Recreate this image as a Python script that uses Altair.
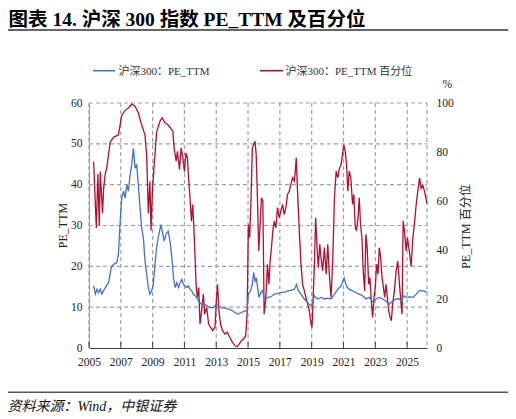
import altair as alt
import pandas as pd

# 沪深300：PE_TTM（左轴）
pe_year = [2005.29, 2005.40, 2005.50, 2005.60, 2005.71, 2005.81, 2006.02, 2006.23, 2006.40, 2006.54,
           2006.75, 2006.85, 2006.96, 2007.06, 2007.17, 2007.27, 2007.38, 2007.48, 2007.58, 2007.69,
           2007.79, 2007.90, 2008.00, 2008.10, 2008.21, 2008.31, 2008.42, 2008.52, 2008.63, 2008.73,
           2008.83, 2008.94, 2009.04, 2009.15, 2009.25, 2009.35, 2009.52, 2009.60, 2009.73, 2009.83,
           2009.98, 2010.10, 2010.21, 2010.31, 2010.42, 2010.52, 2010.63, 2010.73, 2010.83, 2010.94,
           2011.04, 2011.15, 2011.25, 2011.35, 2011.46, 2011.56, 2011.67, 2011.77, 2011.88, 2011.98,
           2012.08, 2012.19, 2012.40, 2012.60, 2012.81, 2013.02, 2013.19, 2013.33, 2013.54, 2013.75,
           2013.96, 2014.17, 2014.38, 2014.58, 2014.79, 2014.94, 2015.02, 2015.15, 2015.27, 2015.35,
           2015.44, 2015.52, 2015.60, 2015.69, 2015.80, 2015.91, 2016.01, 2016.12, 2016.22, 2016.43,
           2016.64, 2016.85, 2017.06, 2017.27, 2017.48, 2017.69, 2017.91, 2018.05, 2018.16, 2018.33,
           2018.54, 2018.75, 2018.96, 2019.06, 2019.17, 2019.27, 2019.38, 2019.59, 2019.80, 2020.01,
           2020.22, 2020.43, 2020.64, 2020.85, 2021.04, 2021.15, 2021.25, 2021.36, 2021.57, 2021.78,
           2021.99, 2022.20, 2022.41, 2022.62, 2022.83, 2023.04, 2023.25, 2023.46, 2023.67, 2023.88,
           2024.09, 2024.31, 2024.52, 2024.68, 2024.77, 2024.94, 2025.15, 2025.36, 2025.57, 2025.78,
           2025.99, 2026.15, 2026.25]
pe_value = [15.2, 13.2, 14.4, 13.6, 14.4, 13.2, 14.8, 16, 19.7, 20.5,
            20.9, 22.9, 31, 36.7, 38.4, 36.7, 40, 38.4, 42.4, 44.9,
            48.9, 44, 45, 40, 34.3, 29.4, 27, 21.3, 18, 14.8,
            13.2, 14, 15.6, 20.5, 24.6, 27, 30.2, 28.6, 26.2, 27.8,
            28.6, 26, 22.1, 17.2, 14.8, 16, 14.8, 16, 16.8, 15.6,
            15.2, 14.8, 15.2, 14.4, 14, 13.2, 12.8, 12.4, 11.5, 11.1,
            10.7, 11.1, 10.3, 9.9, 9.9, 10.7, 10.3, 9.9, 9.8, 9.5,
            9.3, 8.7, 8.3, 8.7, 9.1, 9.1, 13.2, 14, 15.6, 18.5,
            16.4, 17.2, 14.8, 12.4, 13.6, 14, 12.4, 12, 12.4, 12.5,
            13.2, 13.3, 13.6, 13.6, 14, 14.1, 14.4, 15.6, 14, 13.2,
            12, 11.1, 10.3, 11.1, 12.8, 12.4, 12, 12.4, 12, 12.2,
            12, 13.2, 14.4, 15.2, 17.2, 15.6, 14.8, 14.4, 14, 13.6,
            13.2, 12.8, 12, 12.4, 11.4, 12, 12.4, 12, 11.5, 10.7,
            11.5, 12, 12, 11.5, 12.8, 12.4, 12.5, 12.4, 13.2, 14.1,
            14, 13.8, 13.6]

# 沪深300：PE_TTM 百分位（右轴，%）
pct_year = [2005.29, 2005.46, 2005.56, 2005.65, 2005.71, 2005.85, 2005.92, 2006.02, 2006.13, 2006.33,
            2006.54, 2006.85, 2007.06, 2007.27, 2007.48, 2007.69, 2007.90, 2008.10, 2008.31, 2008.52,
            2008.63, 2008.73, 2008.83, 2008.90, 2008.98, 2009.10, 2009.25, 2009.46, 2009.60, 2009.77,
            2009.98, 2010.27, 2010.35, 2010.48, 2010.56, 2010.69, 2010.79, 2010.90, 2011.00, 2011.10,
            2011.19, 2011.25, 2011.35, 2011.44, 2011.52, 2011.60, 2011.67, 2011.73, 2011.81, 2011.90,
            2011.98, 2012.08, 2012.19, 2012.27, 2012.40, 2012.52, 2012.65, 2012.77, 2012.92, 2013.02,
            2013.08, 2013.17, 2013.27, 2013.40, 2013.54, 2013.69, 2013.85, 2014.02, 2014.19, 2014.31,
            2014.44, 2014.58, 2014.73, 2014.85, 2014.94, 2015.02, 2015.10, 2015.19, 2015.27, 2015.35,
            2015.44, 2015.51, 2015.59, 2015.67, 2015.76, 2015.84, 2015.93, 2016.01, 2016.12, 2016.22,
            2016.31, 2016.39, 2016.47, 2016.56, 2016.64, 2016.75, 2016.85, 2016.96, 2017.06, 2017.17,
            2017.27, 2017.38, 2017.48, 2017.59, 2017.69, 2017.80, 2017.91, 2017.97, 2018.03, 2018.12,
            2018.22, 2018.33, 2018.43, 2018.54, 2018.64, 2018.75, 2018.85, 2018.96, 2019.02, 2019.08,
            2019.17, 2019.25, 2019.34, 2019.42, 2019.51, 2019.59, 2019.69, 2019.80, 2019.91, 2020.01,
            2020.12, 2020.22, 2020.33, 2020.43, 2020.54, 2020.64, 2020.75, 2020.85, 2020.94, 2021.02,
            2021.11, 2021.19, 2021.27, 2021.36, 2021.46, 2021.57, 2021.65, 2021.74, 2021.82, 2021.91,
            2021.99, 2022.07, 2022.16, 2022.24, 2022.33, 2022.41, 2022.49, 2022.58, 2022.66, 2022.75,
            2022.83, 2022.92, 2023.00, 2023.08, 2023.17, 2023.25, 2023.34, 2023.42, 2023.51, 2023.59,
            2023.67, 2023.76, 2023.84, 2023.93, 2024.01, 2024.09, 2024.20, 2024.31, 2024.41, 2024.52,
            2024.62, 2024.68, 2024.75, 2024.83, 2024.94, 2025.02, 2025.11, 2025.25, 2025.36, 2025.46,
            2025.57, 2025.67, 2025.78, 2025.88, 2025.99, 2026.09, 2026.18, 2026.25]
pct_value = [76, 49, 71, 50, 72, 55, 65, 71, 74, 84,
             86, 87, 95, 97, 98, 99.6, 98.6, 96, 91, 87,
             78, 55, 68, 48, 63, 75, 88, 92.5, 94, 92,
             91, 88.5, 81.7, 76.3, 80.3, 72.9, 81.7, 77.6, 72, 79.6,
             77.6, 70.6, 61.3, 51.8, 58.6, 47.8, 36.9, 26, 20.6, 24.7,
             9.8, 15.2, 22, 13.8, 16.6, 9.8, 8.4, 7.1, 8.4, 20.6,
             26, 15.2, 9.8, 7.1, 5.7, 6.4, 4.3, 2.3, 0.9, 0.5,
             1.6, 3, 3.7, 5, 13.8, 50.5, 45, 61.3, 81.7, 83,
             84.4, 79, 61.3, 39.6, 50.5, 61.3, 60, 13.8, 20.6, 34.2,
             26, 35.5, 41, 47.8, 51.8, 49, 57.3, 53.2, 55.9, 58.6,
             54.5, 57.3, 62.7, 64, 66.8, 69.5, 68.1, 72.2, 77.6, 62.7,
             47.8, 34.2, 26, 23.3, 20.6, 17.9, 15.2, 9.8, 8.4, 17.9,
             34.2, 53.2, 41, 32.8, 42.3, 36.9, 31.5, 41, 30.1, 42.3,
             28.8, 20.6, 36.9, 61.3, 72.2, 69.5, 73.5, 74.9, 79, 83,
             80.3, 74.9, 64, 72.2, 69.5, 58.6, 62.7, 49.1, 47.8, 53.2,
             61.3, 50.5, 45, 31.5, 23.3, 46.4, 41, 26, 28.8, 19.3,
             12.5, 20.6, 24.7, 34.2, 30.1, 41, 36.9, 28.8, 24.7, 20.6,
             26, 20.6, 15.2, 12.5, 11.1, 17.9, 23.3, 31.5, 35.5, 26,
             17.9, 13.8, 51.8, 47.8, 39.6, 45, 41, 33.3, 45, 50.5,
             58.6, 64, 69.5, 65.1, 66.4, 64, 61.3, 59]

x_ticks = [2005, 2007, 2009, 2011, 2013, 2015, 2017, 2019, 2021, 2023, 2025]
left_ticks = [0, 10, 20, 30, 40, 50, 60]
right_ticks = [0, 20, 40, 60, 80, 100]

pe = pd.DataFrame({"year": pe_year, "pe": pe_value})
pct = pd.DataFrame({"year": pct_year, "pct": pct_value})
ticks = pd.DataFrame({"year": x_ticks})
hgrid = pd.DataFrame({"pe": left_ticks[1:]})

SERIF = "Liberation Serif, Noto Sans CJK SC"
BLUE = "#4472C4"
RED = "#AE1030"
GRID = "#A0A0A0"
W, H = 338, 245

x_scale = alt.Scale(domain=[2005, 2026.25], nice=False, zero=False)
y_scale = alt.Scale(domain=[0, 60], nice=False)
# 资料来源放在横轴标题的位置
x_axis = alt.Axis(values=x_ticks, format="d", ticks=False, grid=False,
                  labelOverlap=False, labelFlush=False,
                  domainColor="#404040", domainWidth=1.2,
                  labelFont=SERIF, labelFontSize=11.5, labelColor="#222", labelPadding=8,
                  title="资料来源：Wind，中银证券", titleFont=SERIF, titleFontSize=14,
                  titleFontStyle="italic", titleFontWeight="normal", titleColor="#111",
                  titleAlign="left", titleBaseline="alphabetic", titleAngle=0,
                  titleX=-82, titleY=62, titleLimit=1000)
x_enc = alt.X("year:Q", scale=x_scale, axis=x_axis)


def hline(x1, x2, y, color, width=1.2, key=0):
    return alt.Chart(pd.DataFrame({"k": [key]})).mark_rule(color=color, strokeWidth=width).encode(
        x=alt.value(x1), x2=alt.value(x2), y=alt.value(y)
    )


def axis_label(s, tx, ty, size=11, color="#333", weight="normal"):
    # 文字借用一条不画线、只带标题的纵轴来放置
    return alt.Chart(hgrid).mark_rule(strokeOpacity=0).encode(
        x=alt.value(0), x2=alt.value(1),
        y=alt.Y("pe:Q", scale=y_scale,
                axis=alt.Axis(orient="left", labels=False, ticks=False, domain=False, grid=False,
                              title=s, titleX=tx, titleY=ty, titleAngle=0, titleAlign="left",
                              titleBaseline="alphabetic", titleFont=SERIF, titleFontSize=size,
                              titleColor=color, titleFontWeight=weight, titleLimit=1000)),
    )


title = axis_label("图表 14. 沪深 300 指数 PE_TTM 及百分位", -81, -78, size=19.5,
                   color="#000", weight="bold")
title_line = hline(-84, 422, -73, "#333333", 1.4, key=1)
leg_blue = hline(4, 26, -32.3, BLUE, 1.6, key=2)
leg_blue_t = axis_label("沪深300：PE_TTM", 29, -29)
leg_red = hline(171, 194, -32.3, RED, 1.6, key=3)
leg_red_t = axis_label("沪深300：PE_TTM 百分位", 196, -29)
pct_unit = axis_label("%", 353, -16, size=11.5, color="#222")
foot_line = hline(-84, 422, 289.3, "#555555", 1.4, key=4)

# 虚线网格（纵向 + 横向 + 右边框）
vgrid = alt.Chart(ticks).mark_rule(color=GRID, strokeWidth=1.2, strokeDash=[4, 3]).encode(
    x=x_enc, y=alt.value(0), y2=alt.value(H)
)
hgrid_lines = alt.Chart(hgrid).mark_rule(color=GRID, strokeWidth=1.2, strokeDash=[4, 3]).encode(
    y=alt.Y("pe:Q", scale=y_scale, axis=None), x=alt.value(0), x2=alt.value(W)
)
right_edge = alt.Chart(pd.DataFrame({"k": [5]})).mark_rule(
    color=GRID, strokeWidth=1.2, strokeDash=[4, 3]
).encode(x=alt.value(W), y=alt.value(0), y2=alt.value(H))

red = alt.Chart(pct).mark_line(color=RED, strokeWidth=1.3).encode(
    x=x_enc,
    y=alt.Y("pct:Q", scale=alt.Scale(domain=[0, 100], nice=False),
            axis=alt.Axis(orient="right", values=right_ticks, grid=False, domain=False, ticks=False,
                          labelFont=SERIF, labelFontSize=11.5, labelColor="#222", labelPadding=9,
                          labelFlush=False, labelOverlap=False,
                          title="PE_TTM 百分位", titleFont=SERIF, titleFontSize=12,
                          titleFontWeight="normal", titleColor="#222", titleAngle=270,
                          titleAlign="center", titleBaseline="middle", titleX=38, titleY=123)),
)

blue = alt.Chart(pe).mark_line(color=BLUE, strokeWidth=1.3).encode(
    x=x_enc,
    y=alt.Y("pe:Q", scale=y_scale,
            axis=alt.Axis(orient="left", values=left_ticks, grid=False,
                          domainColor=GRID, domainWidth=1.2, labelFlush=False, labelOverlap=False,
                          ticks=False, labelFont=SERIF, labelFontSize=11.5, labelColor="#222",
                          labelPadding=7, title="PE_TTM", titleFont=SERIF, titleFontSize=12,
                          titleFontWeight="normal", titleColor="#222", titleAngle=270,
                          titleAlign="center", titleBaseline="middle", titleX=-27, titleY=122)),
)

# 横轴刻度（朝内）
tick_marks = alt.Chart(ticks).mark_rule(color="#404040", strokeWidth=1).encode(
    x=x_enc, y=alt.value(H - 6), y2=alt.value(H)
)

chart = alt.layer(
    vgrid, hgrid_lines, right_edge, red, blue, tick_marks,
    title_line, leg_blue, leg_red, foot_line,
    title, leg_blue_t, leg_red_t, pct_unit
).resolve_scale(y="independent").properties(
    width=W, height=H,
    padding={"left": 81, "top": 95, "right": 81, "bottom": 70},
    autosize=alt.AutoSizeParams(type="none"),
    background="white",
).configure_view(stroke=None)

chart.save("out.html", embed_options={"renderer": "svg", "actions": False})
